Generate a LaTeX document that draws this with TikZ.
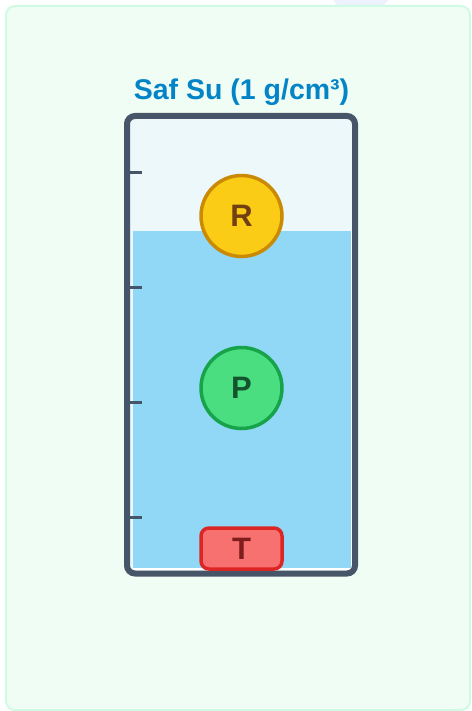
\documentclass[tikz,border=0pt]{standalone}
\usepackage{fontspec}
\setmainfont{Liberation Sans}
\definecolor{cardfill}{HTML}{F0FDF4}
\definecolor{carddraw}{HTML}{D1FAE5}
\definecolor{haze}{HTML}{EEF2FC}
\definecolor{titleblue}{HTML}{0284C7}
\definecolor{airfill}{HTML}{ECF8FA}
\definecolor{waterfill}{HTML}{90D8F6}
\definecolor{slate}{HTML}{475569}
\definecolor{rfill}{HTML}{FACC15}
\definecolor{rdraw}{HTML}{CA8A04}
\definecolor{rtext}{HTML}{713F12}
\definecolor{pfill}{HTML}{4ADE80}
\definecolor{pdraw}{HTML}{16A34A}
\definecolor{ptext}{HTML}{14532D}
\definecolor{tfill}{HTML}{F87171}
\definecolor{tdraw}{HTML}{DC2626}
\definecolor{ttext}{HTML}{7F1D1D}
\begin{document}
\begin{tikzpicture}[x=1pt,y=-1pt,
    ball/.style={circle, draw, line width=3.5pt, minimum size=81pt, inner sep=0pt,
      font=\fontsize{31}{31}\selectfont\bfseries},
    block/.style={rectangle, draw, rounded corners=8pt, line width=3.5pt,
      minimum width=81pt, minimum height=41pt, inner sep=0pt,
      font=\fontsize{31}{31}\selectfont\bfseries}]

        \useasboundingbox (0,0) rectangle (471,711);
        \fill[white] (0,0) rectangle (471,711);
        \fill[haze] (333,0) -- (388,0) -- (384,5) -- (337,5) -- cycle;
        \draw[carddraw, fill=cardfill, line width=2pt, rounded corners=9pt]
          (6,6) rectangle (470,710);

        \node[titleblue, anchor=base, font=\fontsize{28.5}{28.5}\selectfont\bfseries]
          (title) at (241.5,100) {Saf Su (1 g/cm³)};

        % container
        \fill[airfill, rounded corners=6pt] (127,116) rectangle (355,573.5);
        \fill[white] (133,231) rectangle (352.5,570);
        \fill[waterfill] (133,231) rectangle (351,568);
        \draw[slate, line width=6pt, rounded corners=8pt] (127,116) rectangle (355,573.5);
        \foreach \y in {172.5,287.5,402.5,517.5}
          \draw[slate, line width=3pt] (130,\y) -- (142,\y);

        \begin{scope}[every node/.style={}]
          \node[ball, draw=rdraw, fill=rfill, text=rtext] (R) at (241.5,216) {R};
          \node[ball, draw=pdraw, fill=pfill, text=ptext] (P) at (241.5,388) {P};
          \node[block, draw=tdraw, fill=tfill, text=ttext] (T) at (241.5,548.5) {T};
        \end{scope}

      \end{tikzpicture}
\end{document}
